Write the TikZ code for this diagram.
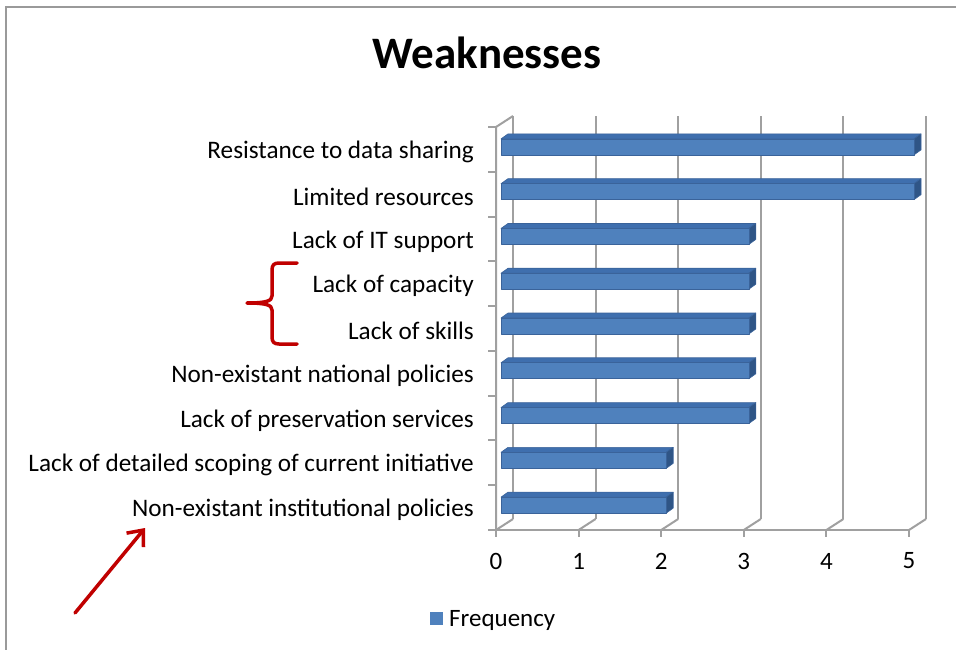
\documentclass[tikz,border=0pt]{standalone}
\usepackage{fontspec}
\setmainfont{Carlito}
\usetikzlibrary{arrows.meta}
\definecolor{barfront}{HTML}{4F81BD}
\definecolor{bartop}{HTML}{3F6FAE}
\definecolor{barside}{HTML}{2F5586}
\definecolor{baredge}{HTML}{3A639A}
\definecolor{gridgray}{HTML}{A0A0A0}
\definecolor{framegray}{HTML}{9A9A9A}
\definecolor{markred}{HTML}{C00000}
\tikzset{
  grid line/.style={draw=gridgray, line width=2pt},
  cat label/.style={anchor=east, inner sep=0pt, font=\fontsize{25.2}{30}\selectfont},
  num label/.style={anchor=center, inner sep=0pt, font=\fontsize{25}{30}\selectfont},
  red mark/.style={draw=markred, line width=3.5pt, line cap=round, line join=round},
}
\begin{document}
\begin{tikzpicture}[x=1pt,y=-1pt]
\useasboundingbox (0,0) rectangle (956,650);
\fill[white] (0,0) rectangle (956,650);
% frame
\draw[framegray, line width=1.5pt] (6,650) -- (6,7) -- (956,7);
% title
\node[inner sep=0pt, font=\bfseries\fontsize{45}{54}\selectfont] (title) at (487,53) {Weaknesses};
% back wall gridlines and floor diagonals
\foreach \v in {0,...,5}{
  \pgfmathsetmacro{\X}{496+82.6*\v}
  \draw[grid line] (\X+17,519) -- (\X+17,116);
  \draw[grid line] (\X,530) -- (\X+17,519);
  \draw[grid line] (\X,530) -- (\X,537);
  \node[num label] (n\v) at (\X,561) {\v};
}
% floor front line
\draw[grid line] (496,530) -- (909,530);
% left wall
\draw[grid line] (496,530) -- (496,127) -- (513,116);
\foreach \i in {0,...,9}{
  \pgfmathsetmacro{\Y}{127+44.78*\i}
  \draw[grid line] (488,\Y) -- (496,\Y);
}
% bars
\foreach \v/\lab [count=\i from 0] in {
  5/Resistance to data sharing,
  5/Limited resources,
  3/Lack of IT support,
  3/Lack of capacity,
  3/Lack of skills,
  3/Non-existant national policies,
  3/Lack of preservation services,
  2/Lack of detailed scoping of current initiative,
  2/Non-existant institutional policies}{
  \pgfmathsetmacro{\c}{127+44.78*(\i+0.5)}
  \pgfmathsetmacro{\X}{496+82.6*\v}
  \node[cat label] (lab\i) at (474,\c+2.5) {\lab};
  \filldraw[fill=bartop, draw=baredge, line width=0.6pt, line join=round]
     (501,\c-10.5) -- (\X+5,\c-10.5) -- (\X+12,\c-15.5) -- (508,\c-15.5) -- cycle;
  \filldraw[fill=barside, draw=baredge, line width=0.6pt, line join=round]
     (\X+5,\c-10.5) -- (\X+12,\c-15.5) -- (\X+12,\c+0.5) -- (\X+5,\c+5.5) -- cycle;
  \filldraw[fill=barfront, draw=baredge, line width=0.6pt, line join=round]
     (501,\c-10.5) rectangle (\X+5,\c+5.5);
}
% legend
\fill[barfront] (430,612) rectangle (443,625);
\node[anchor=west, inner sep=0pt, font=\fontsize{25}{30}\selectfont] (legend) at (449,620) {Frequency};
% red brace
\draw[red mark] (297,263) -- (279,263) .. controls (274,263) and (272,265) .. (272,270)
  -- (272,296) .. controls (272,301) and (266,303) .. (247,303)
  .. controls (266,303) and (272,305) .. (272,310)
  -- (272,337) .. controls (272,342) and (274,344) .. (279,344) -- (297,344);
% red arrow
\coordinate (arrowtail) at (75,613);
\coordinate (arrowhead) at (145,528);
\draw[red mark, -{Straight Barb[length=13pt, width=22pt, line width=3.5pt]}] (arrowtail) -- (arrowhead);
\end{tikzpicture}
\end{document}
